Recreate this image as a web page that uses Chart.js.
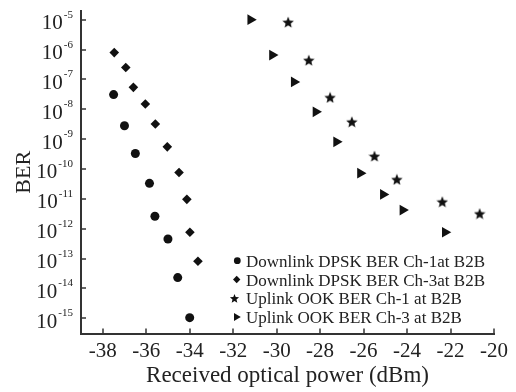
<!DOCTYPE html>
<html>
<head>
<meta charset="utf-8">
<script src="https://cdn.jsdelivr.net/npm/chart.js@4/dist/chart.umd.min.js"></script>
<style>
html,body{margin:0;padding:0;background:#fff;}
#wrap{width:516px;height:392px;position:relative;}
</style>
</head>
<body>
<div id="wrap"><canvas id="c" width="516" height="392"></canvas></div>
<script>
// ---- data ----
const seriesLabels = [
  'Downlink DPSK BER Ch-1at B2B',
  'Downlink DPSK BER Ch-3at B2B',
  'Uplink OOK BER Ch-1 at B2B',
  'Uplink OOK BER Ch-3 at B2B'
];
const dl1X = [-37.5, -37.0, -36.5, -35.85, -35.6, -35.0, -34.55, -34.0];
const dl1Y = [3.1e-8, 2.8e-9, 3.3e-10, 3.3e-11, 2.6e-12, 4.5e-13, 2.3e-14, 1.05e-15];
const dl3X = [-37.47, -36.94, -36.59, -36.04, -35.58, -35.03, -34.49, -34.13, -33.99, -33.62];
const dl3Y = [7.9e-7, 2.5e-7, 5.4e-8, 1.5e-8, 3.2e-9, 5.5e-10, 7.6e-11, 9.6e-12, 7.6e-13, 8.1e-14];
const ul1X = [-29.47, -28.52, -27.54, -26.54, -25.5, -24.47, -22.38, -20.66];
const ul1Y = [8.3e-6, 4.4e-7, 2.5e-8, 3.8e-9, 2.7e-10, 4.5e-11, 8.0e-12, 3.2e-12];
const ul3X = [-31.2, -30.2, -29.2, -28.2, -27.25, -26.15, -25.1, -24.2, -22.25];
const ul3Y = [1.0e-5, 6.5e-7, 8.2e-8, 8.2e-9, 8.1e-10, 7.2e-11, 1.4e-11, 4.2e-12, 7.6e-13];

const xTicks = [-38, -36, -34, -32, -30, -28, -26, -24, -22, -20];
const yExps = [-5, -6, -7, -8, -9, -10, -11, -12, -13, -14, -15];
const xTitle = 'Received optical power (dBm)';
const yTitle = 'BER';

// ---- styles ----
const FONT = "'Liberation Serif','Times New Roman',serif";
const TEXT = '#222';
const AXIS = '#333';
const MARK = '#111';

function starPath(g, cx, cy, R, r) {
  g.beginPath();
  for (let i = 0; i < 10; i++) {
    const a = -Math.PI / 2 + i * Math.PI / 5;
    const rad = i % 2 ? r : R;
    const px = cx + rad * Math.cos(a), py = cy + rad * Math.sin(a);
    if (i) g.lineTo(px, py); else g.moveTo(px, py);
  }
  g.closePath();
}
function makeStar(size) {
  const cv = document.createElement('canvas');
  cv.width = size; cv.height = size;
  const g = cv.getContext('2d');
  g.fillStyle = MARK;
  starPath(g, size / 2, size / 2 + 0.6, size / 2, size / 2 * 0.45);
  g.fill();
  return cv;
}
const starImg = makeStar(12);

function ds(label, xs, ys, style, radius, rotation) {
  return {
    label,
    data: xs.map((x, i) => ({x, y: ys[i]})),
    pointStyle: style,
    pointRadius: radius,
    pointHoverRadius: radius,
    rotation: rotation || 0,
    backgroundColor: MARK,
    borderColor: MARK,
    borderWidth: 0,
    showLine: false
  };
}

const overlay = {
  id: 'overlay',
  afterDraw(chart) {
    const ctx = chart.ctx, xs = chart.scales.x, ys = chart.scales.y, ca = chart.chartArea;
    ctx.save();
    ctx.strokeStyle = AXIS;
    ctx.lineWidth = 1.5;
    xTicks.forEach(v => {
      const px = Math.round(xs.getPixelForValue(v));
      ctx.beginPath(); ctx.moveTo(px, ca.bottom); ctx.lineTo(px, ca.bottom - 5); ctx.stroke();
    });
    yExps.forEach(e => {
      const py = Math.round(ys.getPixelForValue(Math.pow(10, e)));
      ctx.beginPath(); ctx.moveTo(ca.left, py); ctx.lineTo(ca.left + 5, py); ctx.stroke();
    });
    // y tick labels with superscripts
    ctx.fillStyle = TEXT;
    ctx.textBaseline = 'alphabetic';
    ctx.textAlign = 'right';
    yExps.forEach(e => {
      const py = ys.getPixelForValue(Math.pow(10, e));
      const sup = String(e);
      ctx.font = '11px ' + FONT;
      const sw = ctx.measureText(sup).width;
      ctx.fillText(sup, 73, py - 2);
      ctx.font = '21px ' + FONT;
      ctx.fillText('10', 73 - sw - 1, py + 9.5);
    });
    // legend
    const lx = 246, ly0 = 266.7, ldy = 18.8;
    seriesLabels.forEach((lab, i) => {
      const base = ly0 + i * ldy;
      const cy = base - 6;
      ctx.fillStyle = MARK;
      ctx.beginPath();
      if (i === 0) {
        ctx.arc(237.3, cy, 3.4, 0, Math.PI * 2);
      } else if (i === 1) {
        ctx.moveTo(236.7, cy - 3.8); ctx.lineTo(240.4, cy); ctx.lineTo(236.7, cy + 3.8); ctx.lineTo(233, cy);
        ctx.closePath();
      } else if (i === 2) {
        starPath(ctx, 234.5, cy + 0.5, 4.8, 2.1);
      } else {
        ctx.moveTo(234, cy - 4); ctx.lineTo(240.8, cy); ctx.lineTo(234, cy + 4);
        ctx.closePath();
      }
      ctx.fill();
      ctx.fillStyle = TEXT;
      ctx.textAlign = 'left';
      ctx.font = '17px ' + FONT;
      ctx.fillText(lab, lx, base);
    });
    ctx.restore();
  }
};

new Chart(document.getElementById('c'), {
  type: 'scatter',
  data: {
    datasets: [
      ds(seriesLabels[0], dl1X, dl1Y, 'circle', 4.5),
      ds(seriesLabels[1], dl3X, dl3Y, 'rectRot', 4.8),
      ds(seriesLabels[2], ul1X, ul1Y, starImg, 6),
      ds(seriesLabels[3], ul3X, ul3Y, 'triangle', 6.2, 90)
    ]
  },
  options: {
    responsive: false,
    animation: false,
    devicePixelRatio: 1,
    layout: {padding: {top: 11, right: 22, left: 0, bottom: 0}},
    plugins: {legend: {display: false}, tooltip: {enabled: false}},
    scales: {
      x: {
        type: 'linear',
        min: -39, max: -20,
        afterBuildTicks: s => { s.ticks = xTicks.map(v => ({value: v})); },
        afterFit: s => { s.height = 58.5; },
        ticks: {
          font: {family: FONT, size: 21}, color: TEXT, padding: 5.5,
          maxRotation: 0, autoSkip: false,
          callback: v => String(v)
        },
        grid: {display: false, drawTicks: false},
        border: {display: true, color: AXIS, width: 2},
        title: {display: true, text: xTitle, font: {family: FONT, size: 23}, color: TEXT, padding: {top: 0, bottom: 2.7}}
      },
      y: {
        type: 'logarithmic',
        min: Math.pow(10, -15.51), max: Math.pow(10, -4.71),
        afterBuildTicks: s => { s.ticks = yExps.map(e => ({value: Math.pow(10, e)})); },
        afterFit: s => { s.width = 81; },
        ticks: {display: false},
        grid: {display: false, drawTicks: false},
        border: {display: true, color: AXIS, width: 2},
        title: {display: true, text: yTitle, font: {family: FONT, size: 22}, color: TEXT, padding: {top: 11, bottom: 0}}
      }
    }
  },
  plugins: [overlay]
});
</script>
</body>
</html>
